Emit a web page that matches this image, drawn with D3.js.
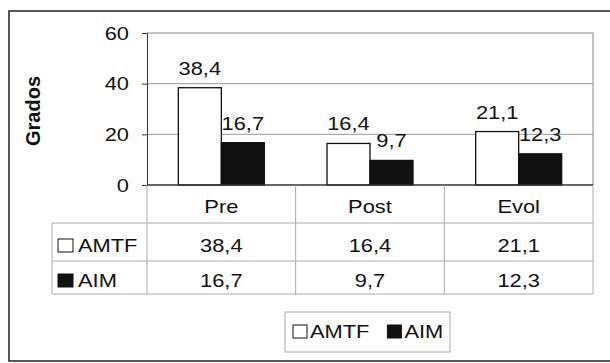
<!DOCTYPE html>
<html><head><meta charset="utf-8">
<script src="https://cdn.jsdelivr.net/npm/d3@7"></script>
<style>body{margin:0;background:#fff}svg{display:block}text{font-family:"Liberation Sans",Arial,sans-serif;fill:#111}</style>
</head><body><svg id="c" width="610" height="363"></svg>
<script>
const categories = ["Pre", "Post", "Evol"];
const seriesNames = ["AMTF", "AIM"];
const amtf = [38.4, 16.4, 21.1];
const aim = [16.7, 9.7, 12.3];
const yTicks = [0, 20, 40, 60];
const fmt = v => String(v).replace(".", ",");
const FS = 19, STRETCH = 1.15;
const stretch = sel => sel.each(function () {
  const len = this.getComputedTextLength();
  d3.select(this).attr("textLength", len * STRETCH).attr("lengthAdjust", "spacingAndGlyphs");
});

const svg = d3.select("#c");
const L = 147, R = 593, T = 33, B = 185;
const x = d3.scaleBand().domain(categories).range([L, R]).paddingInner(0).paddingOuter(0);
const xs = d3.scaleBand().domain(seriesNames).range([0, 86]);
const y = d3.scaleLinear().domain([0, 60]).range([B, T]);
const series = [{name: "AMTF", vals: amtf, fill: "#fff"}, {name: "AIM", vals: aim, fill: "#111"}];

// outer frame
svg.append("rect").attr("x", 9).attr("y", 11).attr("width", 603).attr("height", 350)
  .attr("fill", "none").attr("stroke", "#222").attr("stroke-width", 1.5);

// gridlines
svg.append("g").selectAll("line").data(yTicks.filter(d => d > 0 && d < 60)).join("line")
  .attr("x1", L).attr("x2", R).attr("y1", d => y(d)).attr("y2", d => y(d))
  .attr("stroke", "#999").attr("stroke-width", 1);
// plot border top/right
svg.append("path").attr("d", `M${L},${y(60)}H${R}V${B}`).attr("fill", "none").attr("stroke", "#888");

// y axis
const ya = svg.append("g").attr("transform", `translate(${L},0)`)
  .call(d3.axisLeft(y).tickValues(yTicks).tickSize(5).tickPadding(13));
ya.select(".domain").attr("stroke", "#333");
ya.selectAll(".tick line").attr("stroke", "#333");
ya.selectAll("text").attr("font-size", FS).attr("fill", "#111").style("font-family", '"Liberation Sans",Arial,sans-serif').call(stretch);

svg.append("text").attr("transform", `translate(40,111) rotate(-90)`)
  .attr("text-anchor", "middle").attr("font-size", 20).attr("font-weight", "bold").text("Grados");

// bars
const gap = (x.bandwidth() - 86) / 2;
series.forEach(s => {
  svg.append("g").selectAll("rect").data(categories).join("rect")
    .attr("x", (c) => x(c) + gap + xs(s.name))
    .attr("y", (c, i) => y(s.vals[i]))
    .attr("width", xs.bandwidth())
    .attr("height", (c, i) => B - y(s.vals[i]))
    .attr("fill", s.fill).attr("stroke", "#111").attr("stroke-width", 1.3);
  svg.append("g").selectAll("text").data(categories).join("text")
    .attr("x", (c) => x(c) + gap + xs(s.name) + xs.bandwidth() / 2)
    .attr("y", (c, i) => y(s.vals[i]) - 13)
    .attr("text-anchor", "middle").attr("font-size", FS)
    .text((c, i) => fmt(s.vals[i])).call(stretch);
});
// x axis baseline
svg.append("line").attr("x1", L).attr("x2", R).attr("y1", B).attr("y2", B).attr("stroke", "#333").attr("stroke-width", 1.3);

// data table
const rowY = [185, 223, 261, 294];
const TL = 52;
const tg = svg.append("g").attr("stroke", "#aaa").attr("stroke-width", 1);
tg.append("line").attr("x1", TL).attr("x2", R).attr("y1", rowY[1]).attr("y2", rowY[1]);
tg.append("line").attr("x1", TL).attr("x2", R).attr("y1", rowY[2]).attr("y2", rowY[2]);
tg.append("line").attr("x1", TL).attr("x2", R).attr("y1", rowY[3]).attr("y2", rowY[3]);
tg.append("line").attr("x1", TL).attr("x2", TL).attr("y1", rowY[1]).attr("y2", rowY[3]);
const vx = categories.map(c => x(c)).concat([R]);
tg.selectAll("line.v").data(vx).join("line").attr("class", "v")
  .attr("x1", d => d).attr("x2", d => d).attr("y1", rowY[0]).attr("y2", rowY[3]);

svg.append("g").selectAll("text").data(categories).join("text")
  .attr("x", c => x(c) + x.bandwidth() / 2).attr("y", 213)
  .attr("text-anchor", "middle").attr("font-size", FS).text(c => c).call(stretch);

const baseY = [252, 287];
series.forEach((s, r) => {
  svg.append("rect").attr("x", 58).attr("y", baseY[r] - 13).attr("width", 15).attr("height", 13)
    .attr("fill", s.fill).attr("stroke", "#111").attr("stroke-width", 1);
  svg.append("text").attr("x", 78).attr("y", baseY[r]).attr("font-size", FS).text(s.name).call(stretch);
  svg.append("g").selectAll("text").data(categories).join("text")
    .attr("x", c => x(c) + x.bandwidth() / 2).attr("y", baseY[r])
    .attr("text-anchor", "middle").attr("font-size", FS)
    .text((c, i) => fmt(s.vals[i])).call(stretch);
});

// bottom legend
const lg = svg.append("g");
lg.append("rect").attr("x", 285).attr("y", 312).attr("width", 165).attr("height", 40)
  .attr("fill", "#fff").attr("stroke", "#aaa");
let lx = 293;
series.forEach(s => {
  lg.append("rect").attr("x", lx).attr("y", 325).attr("width", 14).attr("height", 13)
    .attr("fill", s.fill).attr("stroke", "#111");
  const t = lg.append("text").attr("x", lx + 17).attr("y", 338).attr("font-size", FS).text(s.name).call(stretch);
  lx += 17 + t.node().getComputedTextLength() * STRETCH + 9;
});
</script></body></html>
